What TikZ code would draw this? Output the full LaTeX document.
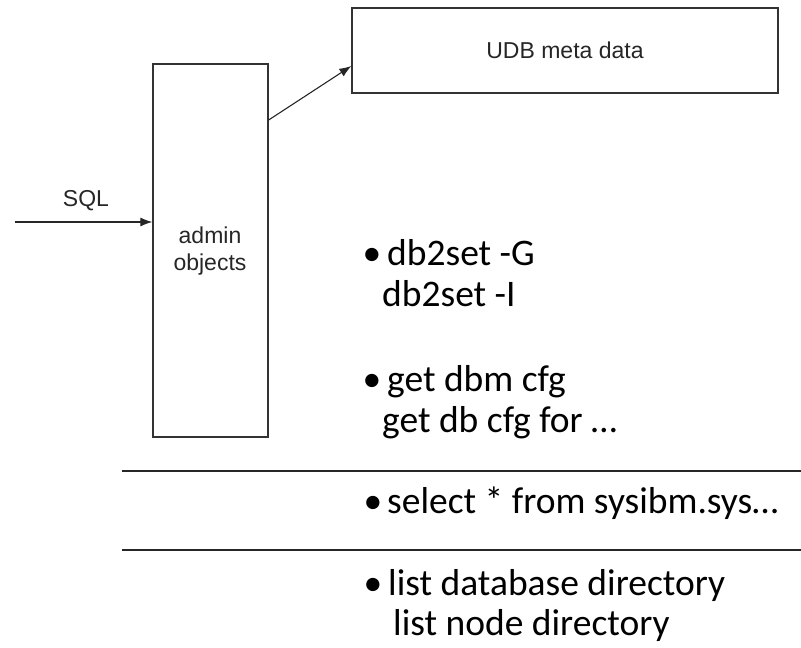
\documentclass[tikz,border=0pt]{standalone}
\usepackage{fontspec}
\setmainfont{Carlito}
\newfontfamily\arialf{Liberation Sans}
\usetikzlibrary{arrows.meta}
\tikzset{
  boxstyle/.style={draw=black!80, line width=1.3pt, rectangle, inner sep=0pt},
  conn/.style={draw=black!85, line width=1.1pt, -{Latex[length=12pt,width=9pt]}},
  sepline/.style={draw=black!85, line width=1.4pt},
  lbl/.style={font=\arialf\fontsize{23}{27}\selectfont, text=black!85, inner sep=0pt, anchor=base},
  bul/.style={font=\fontsize{37.5}{41}\selectfont, anchor=base, inner sep=0pt},
  itm/.style={font=\fontsize{37.5}{41}\selectfont, anchor=base west, inner sep=0pt}
}
\begin{document}
\begin{tikzpicture}[x=1pt,y=-1pt]
\useasboundingbox (0,0) rectangle (801,648);
% boxes
\node[boxstyle, minimum width=426pt, minimum height=85pt] (udb) at (565,50.5) {};
\node[lbl] (udbt) at (565,58) {UDB meta data};
\node[boxstyle, minimum width=115pt, minimum height=373pt] (admin) at (210.5,250.5) {};
\node[lbl] (admt1) at (210,243) {admin};
\node[lbl] (admt2) at (210,270) {objects};
% SQL
\node[lbl] (sql) at (86,206) {SQL};
\coordinate (sqlstart) at (15,222);
\draw[conn] (sqlstart) -- (sqlstart -| admin.west);
% diagonal
\coordinate (d1) at (0,120);
\coordinate (d2) at (0,66);
\draw[conn] (admin.east |- d1) -- (udb.west |- d2);
% separator lines
\coordinate (l1a) at (122,471);
\coordinate (l1b) at (801,471);
\coordinate (l2a) at (122,550);
\coordinate (l2b) at (801,550);
\draw[sepline] (l1a) -- (l1b);
\draw[sepline] (l2a) -- (l2b);
% bullet items
\node[bul] (b1) at (372,265) {•};
\node[itm] (t1) at (387,265) {db2set -G};
\node[itm] (t1b) at (382,306) {db2set -I};
\node[bul] (b2) at (372,391) {•};
\node[itm] (t2) at (387,391) {get dbm cfg};
\node[itm] (t2b) at (382,432) {get db cfg for …};
\node[bul] (b3) at (373,513) {•};
\node[itm] (t3) at (387,513) {select * from sysibm.sys…};
\node[bul] (b4) at (373,595) {•};
\node[itm] (t4) at (388,595) {list database directory};
\node[itm] (t4b) at (393,635) {list node directory};
\end{tikzpicture}
\end{document}
